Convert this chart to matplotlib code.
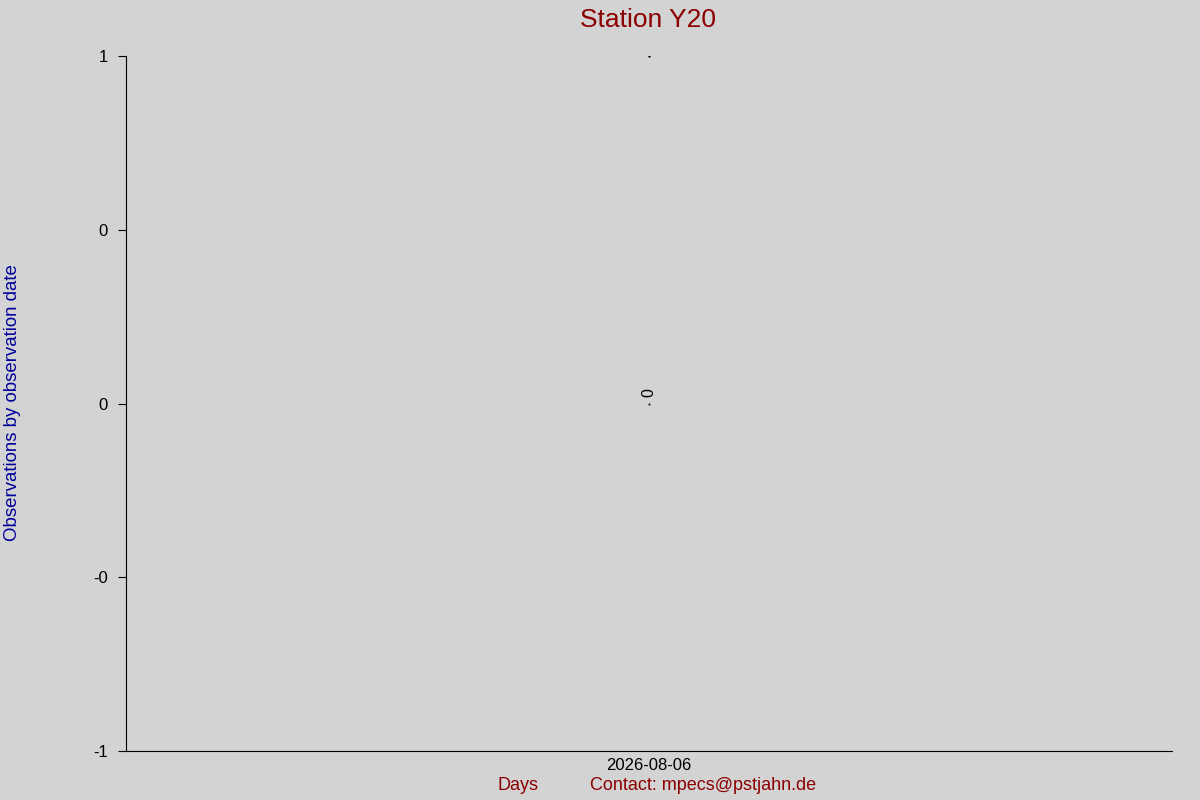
import matplotlib
matplotlib.use('Agg')
import matplotlib.pyplot as plt
import matplotlib.dates as mdates
import datetime as dt

plt.rcParams['font.family'] = ['Liberation Sans', 'DejaVu Sans']

# data
dates = [dt.date(2026, 8, 6)]
counts = [0]
yticks = [-1, -0.5, 0, 0.5, 1]
ytick_labels = ['-1', '-0', '0', '0', '1']
bg = '#d3d3d3'
red = '#8b0000'
blue = '#00009c'

fig = plt.figure(figsize=(12, 8), dpi=100, facecolor=bg)
ax = fig.add_axes([0.105, 0.06125, 0.8717, 0.86875], facecolor=bg)

x = mdates.date2num(dates)
ax.plot(x, counts, 'k.', markersize=1)
ax.plot(x, [1], 'k.', markersize=1.5)
for xi, c in zip(x, counts):
    ax.annotate(str(c), (xi, c), xytext=(0, 5), textcoords='offset points',
                rotation=90, ha='center', va='bottom', fontsize=11.5)

ax.set_xlim(x[0] - 1, x[0] + 1)
ax.set_ylim(-1, 1)
ax.set_xticks(x)
ax.set_xticklabels([d.strftime('%Y-%m-%d') for d in dates], fontsize=12)
ax.tick_params(axis='x', length=0, pad=5)
ax.set_yticks(yticks)
ax.set_yticklabels(ytick_labels, fontsize=12)
ax.tick_params(axis='y', length=6, pad=7)

for s in ['top', 'right']:
    ax.spines[s].set_visible(False)

fig.text(0.54, 0.975, 'Station Y20', color=red, fontsize=19, ha='center', va='center')
fig.text(0.0105, 0.497, 'Observations by observation date', color=blue, fontsize=13.4,
         rotation=90, ha='center', va='center')
fig.text(0.4317, 0.0175, 'Days', color=red, fontsize=13, ha='center', va='center')
fig.text(0.4917, 0.0175, 'Contact: mpecs@pstjahn.de', color=red, fontsize=13, ha='left', va='center')

plt.savefig('out.png', dpi=100, facecolor=bg)
